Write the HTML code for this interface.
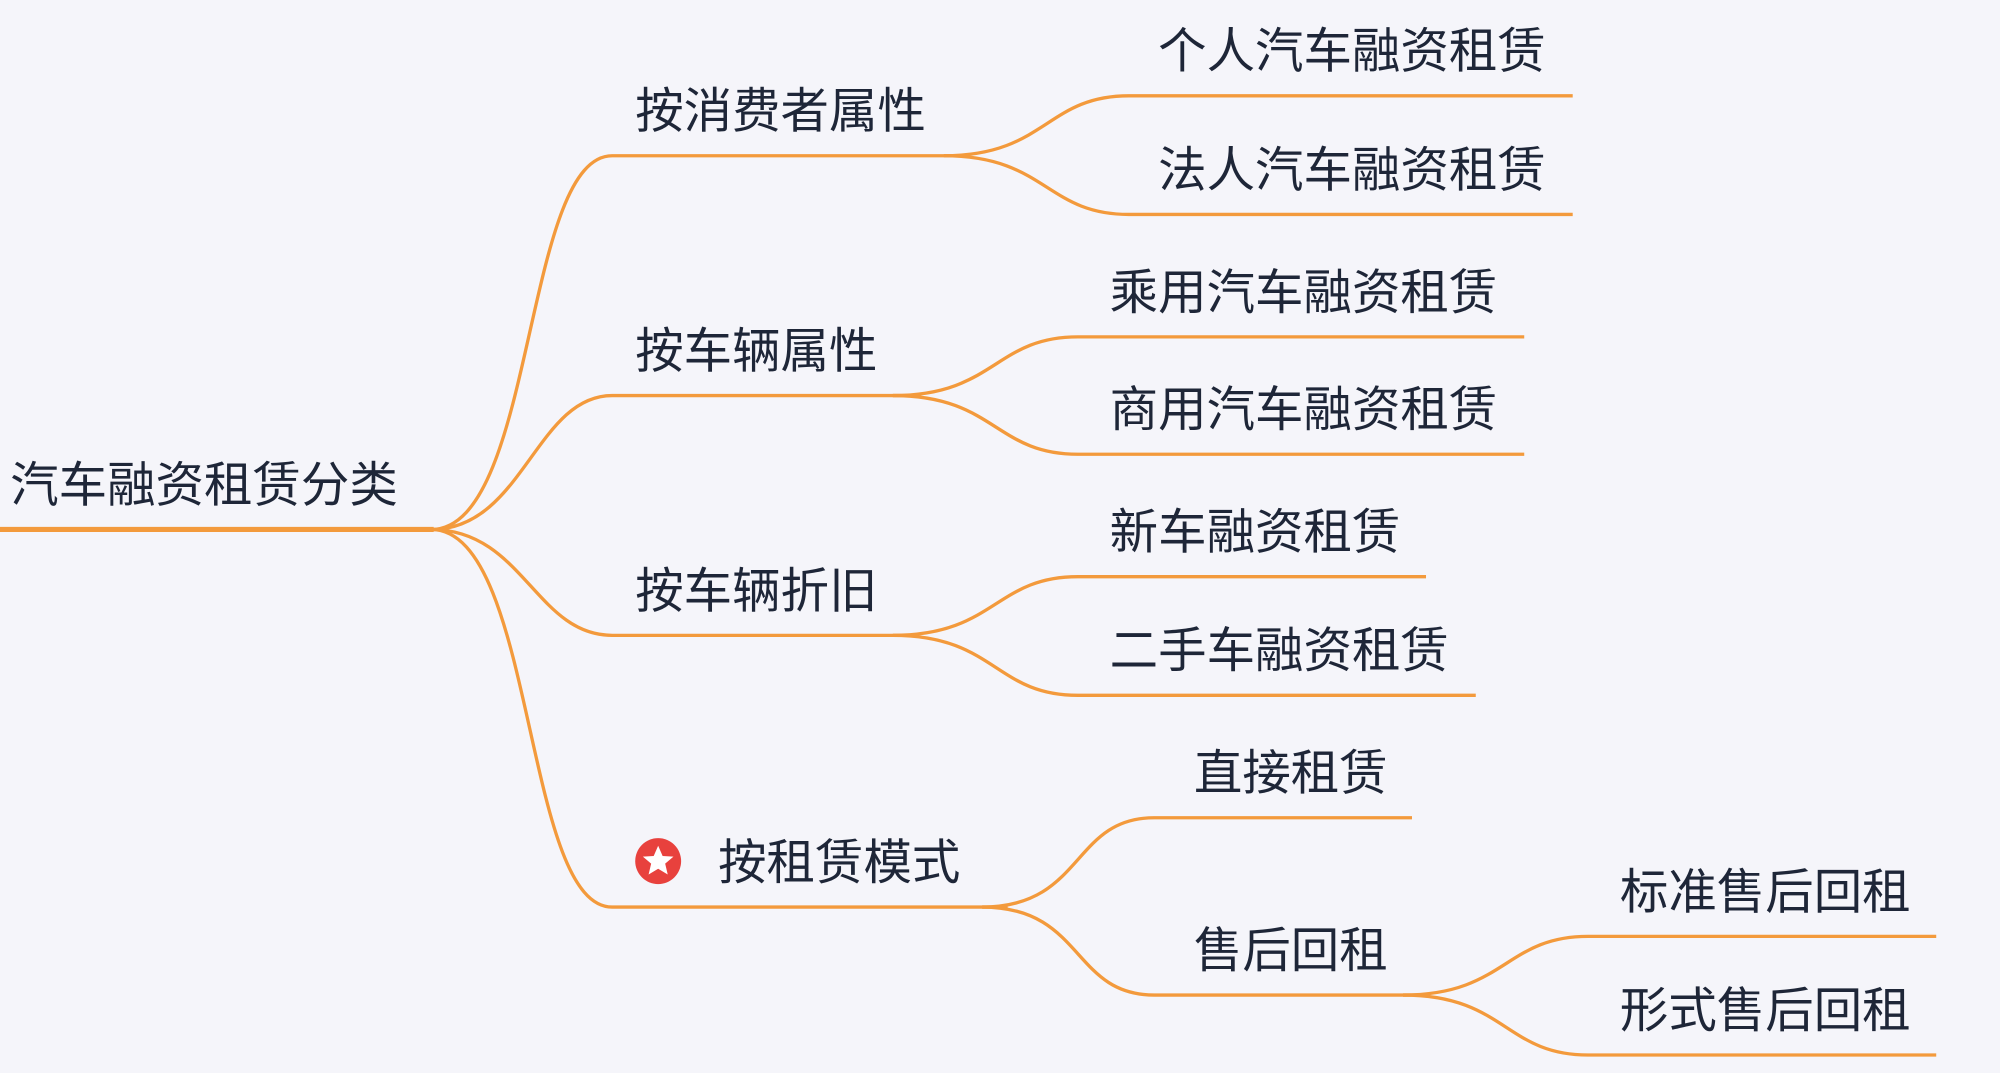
<!DOCTYPE html>
<html><head><meta charset="utf-8"><style>
html,body{margin:0;padding:0;background:#f5f5fa;}
svg{display:block;}
text{font-family:"Liberation Sans","Noto Sans CJK SC",sans-serif;fill:#1e2638;font-size:38px;}
</style></head><body>
<svg width="2000" height="1073" viewBox="0 0 1568 841" xmlns="http://www.w3.org/2000/svg">
<rect width="1568" height="841" fill="#f5f5fa"/>
<g fill="none" stroke="#f39a3c" stroke-width="2.6">
<line x1="0" y1="415" x2="340" y2="415" stroke-width="4"/>
<path d="M338,415 C420,415 410,122 480,122 L760,122"/>
<path d="M338,415 C410,415 420,310 480,310 L720,310"/>
<path d="M338,415 C410,415 420,498 480,498 L720,498"/>
<path d="M338,415 C420,415 410,711 480,711 L790,711"/>
<path d="M740,122 C820,122 820,75 885,75 L1233,75"/>
<path d="M740,122 C820,122 820,168 885,168 L1233,168"/>
<path d="M700,310 C780,310 780,264 845,264 L1195,264"/>
<path d="M700,310 C780,310 780,356 845,356 L1195,356"/>
<path d="M700,498 C780,498 780,452 845,452 L1118,452"/>
<path d="M700,498 C780,498 780,545 845,545 L1157,545"/>
<path d="M770,711 C850,711 840,641 905,641 L1107,641"/>
<path d="M770,711 C850,711 840,780 905,780 L1120,780"/>
<path d="M1100,780 C1180,780 1180,734 1245,734 L1518,734"/>
<path d="M1100,780 C1180,780 1180,827 1245,827 L1518,827"/>
</g>
<text x="8" y="393">汽车融资租赁分类</text>
<text x="498" y="100">按消费者属性</text>
<text x="498" y="288">按车辆属性</text>
<text x="498" y="476">按车辆折旧</text>
<circle cx="516" cy="675" r="18" fill="#e8413d"/>
<polygon fill="#fff" points="516,663 519.5,671 528,671.5 521.5,677 523.5,685.5 516,681 508.5,685.5 510.5,677 504,671.5 512.5,671"/>
<text x="563" y="689">按租赁模式</text>
<text x="908" y="53">个人汽车融资租赁</text>
<text x="908" y="146">法人汽车融资租赁</text>
<text x="870" y="242">乘用汽车融资租赁</text>
<text x="870" y="334">商用汽车融资租赁</text>
<text x="870" y="430">新车融资租赁</text>
<text x="870" y="523">二手车融资租赁</text>
<text x="936" y="619">直接租赁</text>
<text x="936" y="758">售后回租</text>
<text x="1270" y="712">标准售后回租</text>
<text x="1270" y="805">形式售后回租</text>
</svg>
</body></html>
